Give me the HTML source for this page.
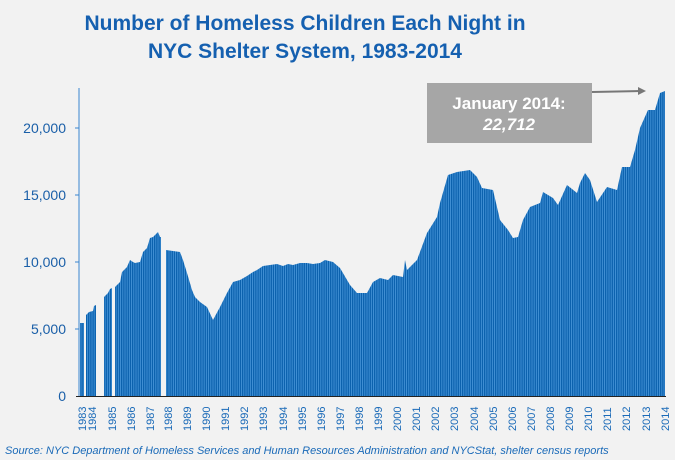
<!DOCTYPE html>
<html><head><meta charset="utf-8"><style>
body{margin:0;background:#f2f2f2;}
svg{display:block;font-family:"Liberation Sans",sans-serif;}
</style></head><body>
<svg width="675" height="460" viewBox="0 0 675 460">
<defs>
<pattern id="st" width="2.2" height="10" patternUnits="userSpaceOnUse">
<rect width="2.2" height="10" fill="#0c62ae"/><rect x="1.4" width="0.8" height="10" fill="#4a98dc"/>
</pattern>
</defs>
<rect width="675" height="460" fill="#f2f2f2"/>
<text x="305" y="30" text-anchor="middle" font-size="21" font-weight="bold" fill="#1560b0">Number of Homeless Children Each Night in</text>
<text x="305" y="58" text-anchor="middle" font-size="21" font-weight="bold" fill="#1560b0">NYC Shelter System, 1983-2014</text>
<g fill="url(#st)">
<polygon points="80,396 80,323 84,323 84,396"/>
<polygon points="86,396 86,315 89,312 93,311 94,306 96,305 96,396"/>
<polygon points="104,396 104,297 108,293 110,289 112,288 112,396"/>
<polygon points="115,396 115,287 120,282 122,272 127,267 130,260 133,262 135,263 140,262 143,252 147,248 150,238 153,237 158,232 160,237 161,237 161,396"/>
<polygon points="166,396 166,250 180,252 183,260 187,273 192,290 195,297 200,302 207,307 213,320 220,307 227,293 233,282 240,280 247,276 253,272 257,270 263,266 270,265 277,264 283,266 288,264 293,265 300,263 307,263 313,264 320,263 325,260 333,262 340,268 350,285 357,293 367,293 373,282 380,278 388,280 393,275 403,277 405,260 407,270 417,260 427,233 437,217 440,203 448,175 457,172 470,170 477,177 482,188 493,190 500,220 508,230 513,238 518,237 523,220 530,207 540,203 543,192 553,198 558,205 567,185 577,193 580,183 585,173 590,180 597,202 607,187 617,190 622,167 630,167 635,150 640,128 648,110 655,110 660,93 665,91 665,396"/>
</g>
<line x1="79" y1="88" x2="79" y2="397" stroke="#3a86d0" stroke-width="1"/>
<line x1="76" y1="396.5" x2="666" y2="396.5" stroke="#222" stroke-width="1"/>
<g stroke="#3a86d0"><line x1="75" y1="128" x2="79" y2="128"/><line x1="75" y1="195" x2="79" y2="195"/><line x1="75" y1="262" x2="79" y2="262"/><line x1="75" y1="329" x2="79" y2="329"/></g>
<g font-size="14" fill="#1a5fa8" text-anchor="end">
<text x="66" y="133">20,000</text><text x="66" y="200">15,000</text><text x="66" y="267">10,000</text><text x="66" y="334">5,000</text><text x="66" y="401">0</text>
</g>
<rect x="427" y="83" width="165" height="60" fill="#a6a6a6"/>
<text x="509" y="109" text-anchor="middle" font-size="17" font-weight="bold" fill="#fff">January 2014:</text>
<text x="509" y="130" text-anchor="middle" font-size="17" font-weight="bold" font-style="italic" fill="#fff">22,712</text>
<line x1="592" y1="92" x2="640" y2="91" stroke="#777" stroke-width="2"/>
<polygon points="646,91 638,87 638,95" fill="#777"/>
<text x="5" y="454" font-size="11" font-style="italic" fill="#1a6ab8">Source:  NYC Department of Homeless Services and Human Resources Administration and NYCStat, shelter census reports</text>
<g font-size="11" fill="#1a6ab8">
<text transform="translate(86,431) rotate(-90)">1983</text>
<text transform="translate(96,431) rotate(-90)">1984</text>
<text transform="translate(116,431) rotate(-90)">1985</text>
<text transform="translate(135,431) rotate(-90)">1986</text>
<text transform="translate(154,431) rotate(-90)">1987</text>
<text transform="translate(172,431) rotate(-90)">1988</text>
<text transform="translate(191,431) rotate(-90)">1989</text>
<text transform="translate(210,431) rotate(-90)">1990</text>
<text transform="translate(229,431) rotate(-90)">1991</text>
<text transform="translate(248,431) rotate(-90)">1992</text>
<text transform="translate(267,431) rotate(-90)">1993</text>
<text transform="translate(287,431) rotate(-90)">1994</text>
<text transform="translate(306,431) rotate(-90)">1995</text>
<text transform="translate(325,431) rotate(-90)">1996</text>
<text transform="translate(344,431) rotate(-90)">1997</text>
<text transform="translate(363,431) rotate(-90)">1998</text>
<text transform="translate(382,431) rotate(-90)">1999</text>
<text transform="translate(401,431) rotate(-90)">2000</text>
<text transform="translate(420,431) rotate(-90)">2001</text>
<text transform="translate(439,431) rotate(-90)">2002</text>
<text transform="translate(458,431) rotate(-90)">2003</text>
<text transform="translate(478,431) rotate(-90)">2004</text>
<text transform="translate(497,431) rotate(-90)">2005</text>
<text transform="translate(516,431) rotate(-90)">2006</text>
<text transform="translate(535,431) rotate(-90)">2007</text>
<text transform="translate(554,431) rotate(-90)">2008</text>
<text transform="translate(573,431) rotate(-90)">2009</text>
<text transform="translate(592,431) rotate(-90)">2010</text>
<text transform="translate(611,431) rotate(-90)">2011</text>
<text transform="translate(630,431) rotate(-90)">2012</text>
<text transform="translate(650,431) rotate(-90)">2013</text>
<text transform="translate(669,431) rotate(-90)">2014</text>
</g>
</svg>
</body></html>
